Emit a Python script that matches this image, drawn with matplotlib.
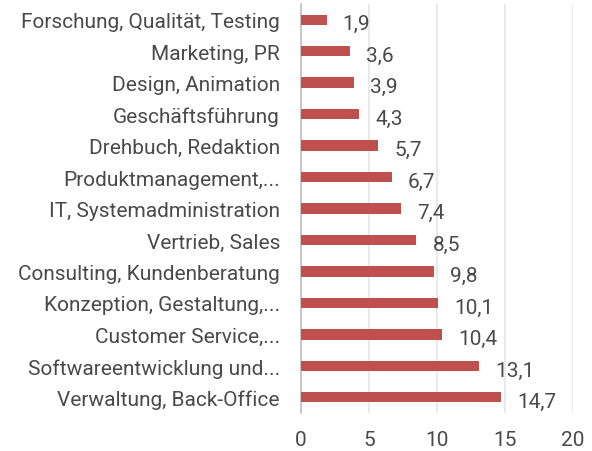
import matplotlib
matplotlib.use('Agg')
import matplotlib.pyplot as plt

categories = ['Forschung, Qualität, Testing', 'Marketing, PR', 'Design, Animation',
              'Geschäftsführung', 'Drehbuch, Redaktion', 'Produktmanagement,...',
              'IT, Systemadministration', 'Vertrieb, Sales', 'Consulting, Kundenberatung',
              'Konzeption, Gestaltung,...', 'Customer Service,...',
              'Softwareentwicklung und...', 'Verwaltung, Back-Office']
values = [1.9, 3.6, 3.9, 4.3, 5.7, 6.7, 7.4, 8.5, 9.8, 10.1, 10.4, 13.1, 14.7]
xticks = [0, 5, 10, 15, 20]

plt.rcParams['font.family'] = ['Roboto', 'DejaVu Sans']
text_col = '#4A4A4A'

fig = plt.figure(figsize=(5.92, 4.52), dpi=100)
ax = fig.add_axes([0.508, 0.084, 0.46, 0.905])

ypos = list(range(len(categories)))
ax.barh(ypos, values, height=0.33, color='#C0504D', zorder=3)
ax.set_ylim(-0.5, len(categories) - 0.5)
ax.invert_yaxis()
ax.set_xlim(0, 20)
ax.set_xticks(xticks)
ax.set_yticks(ypos)
ax.set_yticklabels(categories)
ax.grid(axis='x', color='#E6E6E6', linewidth=1.2, zorder=0)

for y, v in zip(ypos, values):
    ax.annotate(('%.1f' % v).replace('.', ','), (v, y), xytext=(11.5, -3),
                textcoords='offset points', ha='left', va='center',
                fontsize=15, color=text_col)

for s in ['top', 'right', 'bottom']:
    ax.spines[s].set_visible(False)
ax.spines['left'].set_color('#BFBFBF')
ax.spines['left'].set_linewidth(1.2)
ax.tick_params(axis='y', length=0, pad=15, labelsize=15, labelcolor=text_col)
ax.tick_params(axis='x', length=0, pad=12, labelsize=15, labelcolor=text_col)

fig.savefig('out.png', dpi=100)
